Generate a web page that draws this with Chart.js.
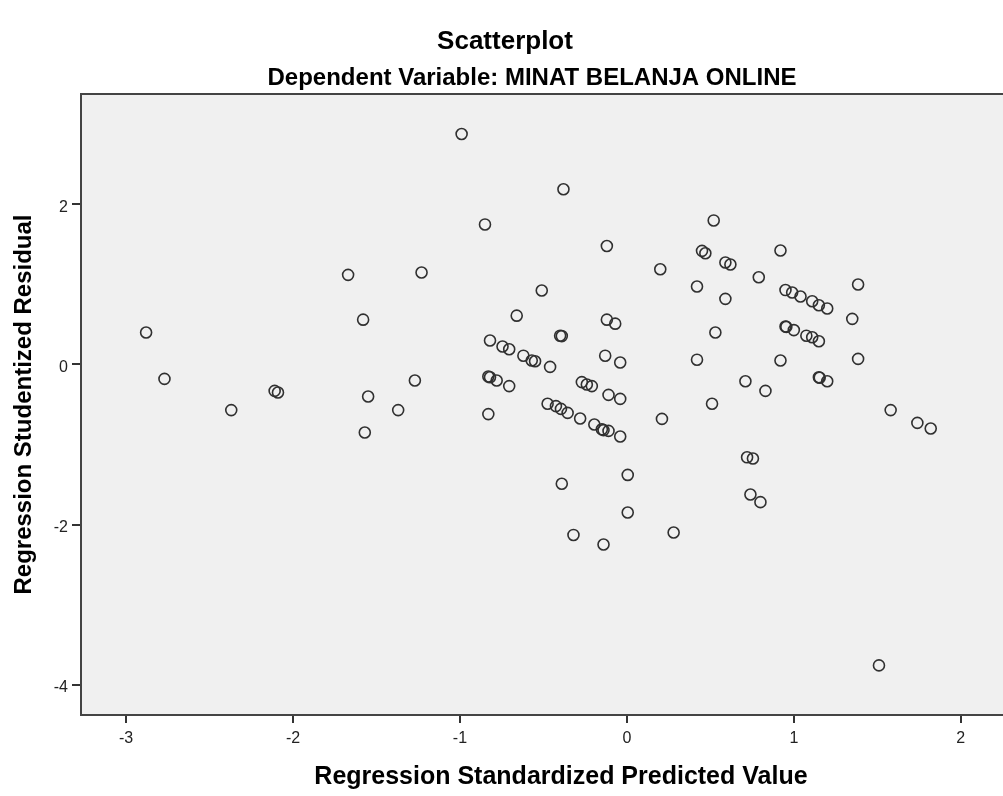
<!DOCTYPE html>
<html>
<head>
<meta charset="utf-8">
<script src="https://cdn.jsdelivr.net/npm/chart.js@4"></script>
<style>
  html, body { margin: 0; padding: 0; background: #fff; overflow: hidden; }
  #wrap { width: 1048px; height: 796px; }
</style>
</head>
<body>
<div id="wrap"><canvas id="scatter"></canvas></div>
<script>
// values
const predicted = [
  -2.88, -2.77, -2.37, -2.11, -2.09, -1.67, -1.58, -1.55, -1.57, -1.37,
  -1.27, -1.23, -0.99, -0.85, -0.83, -0.83, -0.82, -0.78, -0.82, -0.745,
  -0.705, -0.705, -0.66, -0.62, -0.57, -0.55, -0.51, -0.46, -0.475, -0.425,
  -0.395, -0.355, -0.40, -0.39, -0.38, -0.39, -0.32, -0.28, -0.27, -0.24,
  -0.21, -0.195, -0.15, -0.14, -0.11, -0.14, -0.13, -0.12, -0.12, -0.07,
  -0.11, -0.04, -0.04, -0.04, 0.005, 0.005, 0.20, 0.21, 0.28, 0.42,
  0.42, 0.45, 0.47, 0.51, 0.52, 0.53, 0.59, 0.62, 0.59, 0.71,
  0.72, 0.755, 0.74, 0.79, 0.80, 0.83, 0.92, 0.92, 0.95, 0.99,
  1.04, 1.11, 1.15, 1.20, 0.95, 0.955, 1.00, 1.075, 1.11, 1.15,
  1.15, 1.155, 1.20, 1.35, 1.385, 1.385, 1.51, 1.58, 1.74, 1.82
];
const residual = [
  0.40, -0.18, -0.57, -0.33, -0.35, 1.12, 0.56, -0.40, -0.85, -0.57,
  -0.20, 1.15, 2.88, 1.75, -0.62, -0.15, -0.16, -0.20, 0.30, 0.225,
  0.19, -0.27, 0.61, 0.11, 0.05, 0.04, 0.925, -0.03, -0.49, -0.52,
  -0.555, -0.605, 0.36, 0.355, 2.19, -1.49, -2.13, -0.675, -0.22, -0.25,
  -0.27, -0.75, -0.81, -0.82, -0.83, -2.25, 0.11, 1.48, 0.56, 0.51,
  -0.38, -0.43, 0.025, -0.90, -1.38, -1.85, 1.19, -0.68, -2.10, 0.975,
  0.06, 1.42, 1.39, -0.49, 1.80, 0.40, 1.275, 1.25, 0.82, -0.21,
  -1.16, -1.175, -1.625, 1.09, -1.72, -0.33, 1.425, 0.05, 0.93, 0.90,
  0.85, 0.79, 0.74, 0.70, 0.475, 0.47, 0.43, 0.36, 0.34, 0.29,
  -0.16, -0.165, -0.21, 0.57, 1.00, 0.07, -3.76, -0.57, -0.73, -0.80
];
const xTicks = [-3, -2, -1, 0, 1, 2];
const yTicks = [-4, -2, 0, 2];

const chartTitle = "Scatterplot";
const chartSubtitle = "Dependent Variable: MINAT BELANJA ONLINE";
const xTitle = "Regression Standardized Predicted Value";
const yTitle = "Regression Studentized Residual";

const points = predicted.map((x, i) => ({ x: x, y: residual[i] }));

const fontFamily = "'Liberation Sans', Arial, sans-serif";

const plotFrame = {
  id: "plotFrame",
  beforeDatasetsDraw(chart) {
    const { ctx, chartArea: a } = chart;
    ctx.save();
    ctx.fillStyle = "#f0f0f0";
    ctx.fillRect(a.left, a.top, a.right - a.left, a.bottom - a.top);
    ctx.strokeStyle = "#444";
    ctx.lineWidth = 2;
    ctx.strokeRect(a.left, a.top, a.right - a.left, a.bottom - a.top);
    ctx.restore();
  },
  afterDraw(chart) {
    const ctx = chart.ctx;
    ctx.save();
    ctx.fillStyle = "#000";
    ctx.textAlign = "center";
    ctx.textBaseline = "middle";
    ctx.font = "bold 26px " + fontFamily;
    ctx.fillText(chartTitle, 505, 42);
    ctx.font = "bold 24px " + fontFamily;
    ctx.fillText(chartSubtitle, 532, 78);
    ctx.restore();
  }
};

new Chart(document.getElementById("scatter").getContext("2d"), {
  type: "scatter",
  data: {
    datasets: [{
      data: points,
      pointRadius: 5.5,
      pointHoverRadius: 5.5,
      pointBorderWidth: 1.6,
      pointBorderColor: "#303030",
      pointBackgroundColor: "rgba(0,0,0,0)"
    }]
  },
  options: {
    responsive: true,
    maintainAspectRatio: false,
    animation: false,
    layout: { padding: { top: 94, right: 5, left: 0, bottom: 0 } },
    plugins: {
      legend: { display: false },
      tooltip: { enabled: false }
    },
    scales: {
      x: {
        type: "linear",
        min: -3.27,
        max: 2.48,
        afterBuildTicks: (s) => { s.ticks = xTicks.map(v => ({ value: v })); },
        afterFit: (s) => { s.height = 81; },
        grid: { drawOnChartArea: false, drawTicks: true, tickLength: 8, color: "#333", lineWidth: 2 },
        border: { display: false },
        ticks: { color: "#222", font: { family: fontFamily, size: 16 }, padding: 6, maxRotation: 0 },
        title: {
          display: true,
          text: xTitle,
          color: "#000",
          font: { family: fontFamily, size: 25, weight: "bold" },
          padding: { top: 0, bottom: 4 }
        }
      },
      y: {
        type: "linear",
        min: -4.38,
        max: 3.38,
        afterBuildTicks: (s) => { s.ticks = yTicks.map(v => ({ value: v })); },
        afterFit: (s) => { s.width = 81; },
        grid: { drawOnChartArea: false, drawTicks: true, tickLength: 9, color: "#333", lineWidth: 2 },
        border: { display: false },
        ticks: { color: "#222", font: { family: fontFamily, size: 16 }, padding: 4, labelOffset: 3 },
        title: {
          display: true,
          text: yTitle,
          color: "#000",
          font: { family: fontFamily, size: 24, weight: "bold" },
          padding: { top: 10, bottom: 0 }
        }
      }
    }
  },
  plugins: [plotFrame]
});
</script>
</body>
</html>
